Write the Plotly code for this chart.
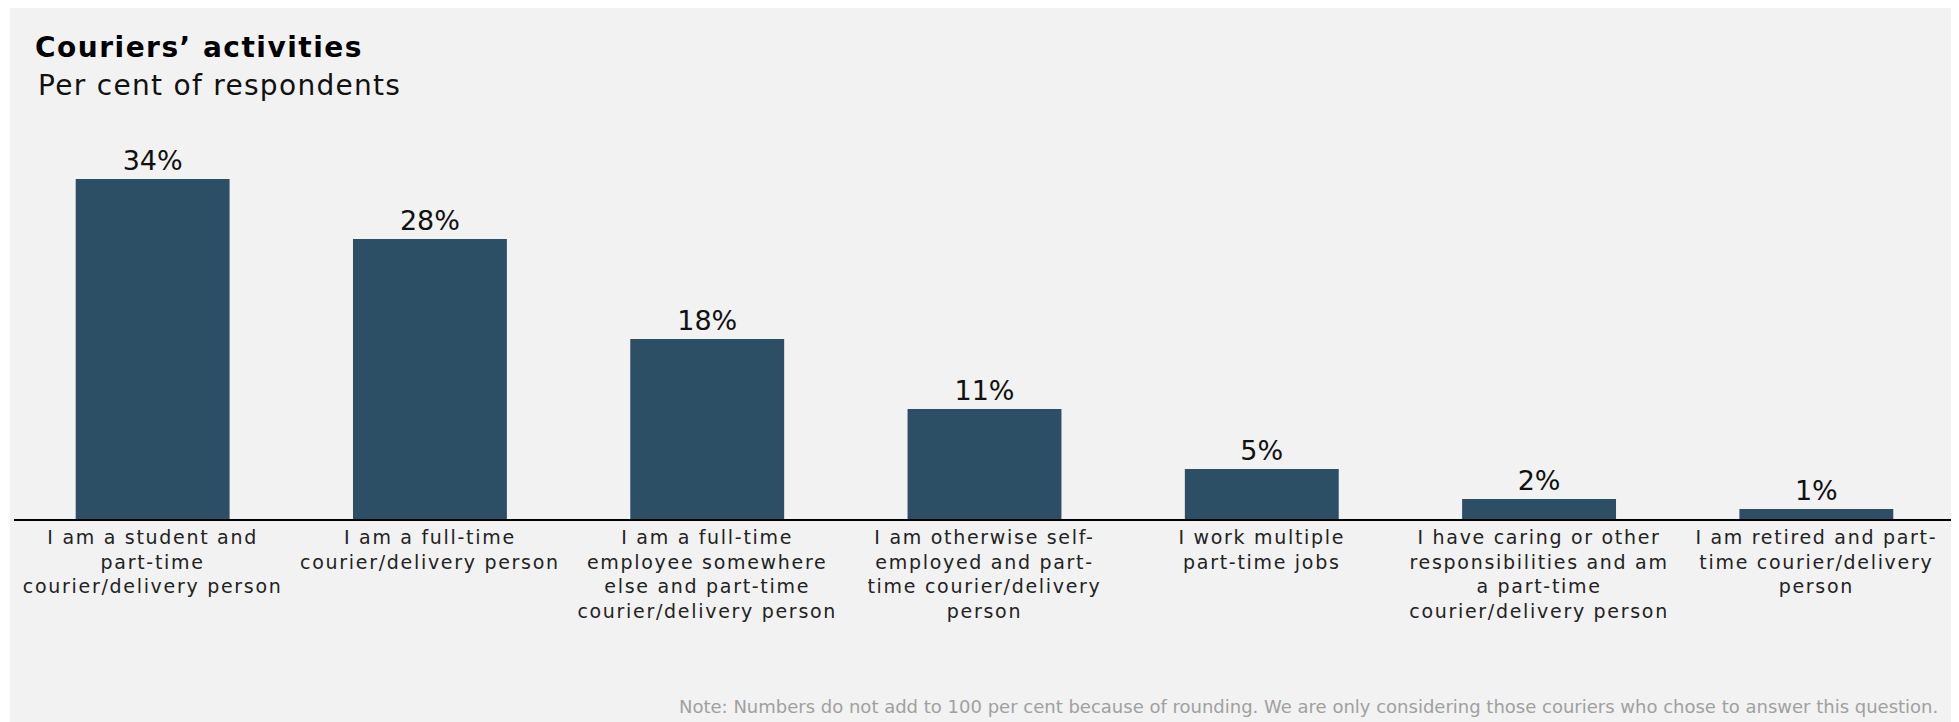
import plotly.graph_objects as go

categories = [
    "I am a student and<br>part-time<br>courier/delivery person",
    "I am a full-time<br>courier/delivery person",
    "I am a full-time<br>employee somewhere<br>else and part-time<br>courier/delivery person",
    "I am otherwise self-<br>employed and part-<br>time courier/delivery<br>person",
    "I work multiple<br>part-time jobs",
    "I have caring or other<br>responsibilities and am<br>a part-time<br>courier/delivery person",
    "I am retired and part-<br>time courier/delivery<br>person",
]
values = [34, 28, 18, 11, 5, 2, 1]
value_labels = ["34%", "28%", "18%", "11%", "5%", "2%", "1%"]

title_text = "Couriers’ activities"
subtitle_text = "Per cent of respondents"
note_text = ("Note: Numbers do not add to 100 per cent because of rounding. "
             "We are only considering those couriers who chose to answer this question.")

FONT = "DejaVu Sans, sans-serif"
BAR = "#2c4f66"
BG = "#f2f2f2"


def spaced(text, ls):
    parts = text.split("<br>")
    return "<br>".join(f'<span style="letter-spacing:{ls}px">{p}</span>' for p in parts)


W, H = 1959, 722
ml, mr, mt, mb = 6, 12, 111, 211
pw, ph = W - ml - mr, H - mt - mb


def px(x):
    return (x - ml) / pw


def py(y):
    return (H - mb - y) / ph


fig = go.Figure(go.Bar(
    x=list(range(len(categories))), y=values,
    text=value_labels, textposition="outside",
    marker=dict(color=BAR, line=dict(width=0)),
    textfont=dict(family=FONT, size=27, color="#111111"),
    cliponaxis=False,
))

fig.update_layout(
    width=W, height=H,
    margin=dict(l=ml, r=mr, t=mt, b=mb),
    paper_bgcolor="white", plot_bgcolor="rgba(0,0,0,0)",
    bargap=0.445, showlegend=False,
    font=dict(family=FONT, color="#222222"),
    xaxis=dict(showline=True, linecolor="black", linewidth=2, ticks="",
               tickmode="array", tickvals=list(range(len(categories))),
               ticktext=[spaced(c, 1.7) for c in categories],
               range=[-0.5, len(categories) - 0.5],
               tickfont=dict(family=FONT, size=19, color="#222222"),
               showgrid=False, zeroline=False, fixedrange=True),
    yaxis=dict(range=[0, 40], visible=False, showgrid=False, zeroline=False),
    shapes=[dict(type="rect", xref="paper", yref="paper", layer="below",
                 x0=px(2), x1=px(1944), y0=py(714), y1=py(-1),
                 fillcolor=BG, line=dict(width=0))],
    annotations=[
        dict(text=spaced(title_text, 1.5), xref="paper", yref="paper",
             x=px(25), y=py(39), xanchor="left", yanchor="middle", showarrow=False,
             font=dict(family=FONT, size=28, color="black", weight="bold")),
        dict(text=spaced(subtitle_text, 1.3), xref="paper", yref="paper",
             x=px(28), y=py(77), xanchor="left", yanchor="middle", showarrow=False,
             font=dict(family=FONT, size=28, color="#111111")),
        dict(text=note_text, xref="paper", yref="paper", x=px(1932), y=py(698),
             xanchor="right", yanchor="middle", showarrow=False,
             font=dict(family=FONT, size=18, color="#a0a0a0")),
    ],
)

fig.write_html("out.html")
